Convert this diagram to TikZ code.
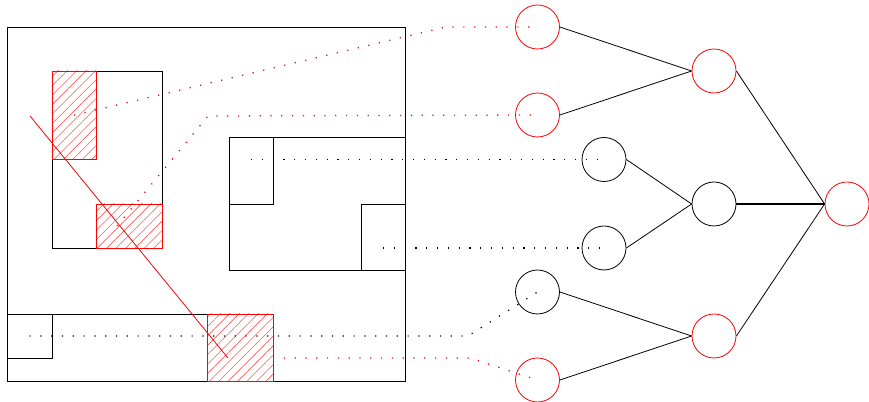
\documentclass[tikz,border=0pt]{standalone}
\usetikzlibrary{patterns.meta,fit}
\begin{document}
\begin{tikzpicture}[x=0.75pt,y=-0.75pt,
 box/.style={draw=black,line width=0.6pt,inner sep=0pt,outer sep=0pt},
 hatch/.style={draw=red,line width=0.6pt,inner sep=0pt,outer sep=0pt,
   pattern={Lines[angle=45,distance=5pt,line width=0.45pt]},pattern color=red!65},
 dots/.style={line width=0.95pt,dash pattern=on 0.9pt off 7.2pt},
 rdots/.style={dots,red},
 nd/.style={circle,draw=black,minimum size=33pt,inner sep=0pt,line width=0.6pt},
 rnd/.style={nd,draw=red},
 edge/.style={line width=0.6pt}]
\useasboundingbox (0,0) rectangle (869,402);
% rectangles
\node[box,fit={(7,27) (405,381)}] (O) {};
\node[box,fit={(52,71) (162,248)}] (A) {};
\node[box,fit={(229,137) (405,270)}] (B) {};
\node[box,fit={(229,137) (273,204)}] (B1) {};
\node[box,fit={(361,204) (405,270)}] (B2) {};
\node[box,fit={(7,314) (273,381)}] (C) {};
\node[box,fit={(7,314) (52,358)}] (C1) {};
\node[hatch,fit={(52,71) (96,159.5)}] (A1) {};
\node[hatch,fit={(96,204) (162,248)}] (A2) {};
\node[hatch,fit={(207,314) (273,381)}] (C2) {};
% red diagonal
\coordinate (d1) at (30,116);
\coordinate (d2) at (228,358);
\draw[red,line width=0.6pt] (d1) -- (d2);
% circles
\node[rnd] (R1) at (537.5,27) {};
\node[rnd] (R2) at (537.5,115) {};
\node[nd] (K1) at (604,159.5) {};
\node[nd] (K2) at (604,248) {};
\node[nd] (K3) at (537.5,292) {};
\node[rnd] (R6) at (537.5,380) {};
\node[rnd] (M1) at (714,71) {};
\node[nd] (M2) at (714,204) {};
\node[rnd] (M3) at (714,336) {};
\node[rnd] (T) at (847,204) {};
% dotted connectors
\coordinate (b1) at (446,27);
\draw[rdots] (A1.center) -- (b1) -- (R1.center);
\coordinate (a2s) at (117,226);
\coordinate (b2) at (208,116);
\draw[rdots] (a2s) -- (b2) -- (R2.center);
\draw[dots] (B1.center |- K1.center) -- (K1.center);
\draw[dots] (B2.center |- K2.center) -- (K2.center);
\coordinate (b5) at (468,336);
\draw[dots] (C1.center) -- (b5) -- (K3.center);
\coordinate (c6) at (273,358);
\coordinate (b6) at (470,358);
\draw[rdots] (c6) -- (b6) -- (R6.center);
% tree edges
\draw[edge] (R1.east) -- (M1.west);
\draw[edge] (R2.east) -- (M1.west);
\draw[edge] (K1.east) -- (M2.west);
\draw[edge] (K2.east) -- (M2.west);
\draw[edge] (K3.east) -- (M3.west);
\draw[edge] (R6.east) -- (M3.west);
\draw[edge] (M1.east) -- (T.west);
\draw[line width=1.5pt] (M2.east) -- (T.west);
\draw[edge] (M3.east) -- (T.west);
\end{tikzpicture}
\end{document}
